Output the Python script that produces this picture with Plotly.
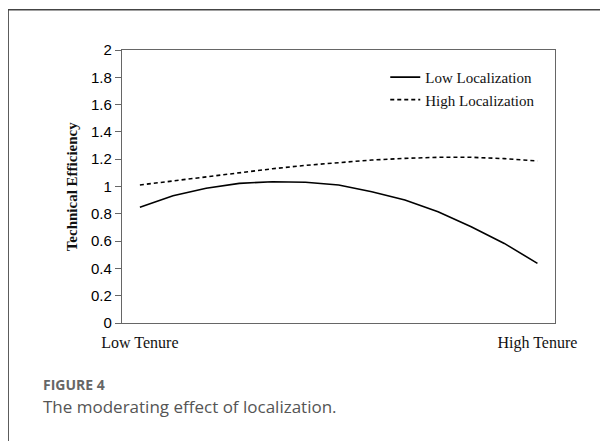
import plotly.graph_objects as go

# tenure positions (13 evenly spaced points from low to high)
tenure_idx = list(range(13))
tenure_labels = ["Low Tenure", "High Tenure"]

low_localization = [0.848, 0.933, 0.987, 1.023, 1.035, 1.031, 1.011, 0.962, 0.901, 0.815, 0.705, 0.583, 0.437]
high_localization = [1.011, 1.042, 1.072, 1.101, 1.130, 1.155, 1.177, 1.194, 1.206, 1.214, 1.214, 1.204, 1.187]

y_ticks = [0, 0.2, 0.4, 0.6, 0.8, 1, 1.2, 1.4, 1.6, 1.8, 2]

serif = "Liberation Serif, Times New Roman, serif"
sans = "Liberation Sans, Arial, sans-serif"

fig = go.Figure()
fig.add_trace(go.Scatter(x=tenure_idx, y=low_localization, mode="lines", name="Low Localization",
                         line=dict(color="black", width=1.6)))
fig.add_trace(go.Scatter(x=tenure_idx, y=high_localization, mode="lines", name="High Localization",
                         line=dict(color="black", width=1.6, dash="4px,3px")))

fig.update_xaxes(
    range=[-0.54, 12.53],
    tickmode="array", tickvals=[tenure_idx[0], tenure_idx[-1]], ticktext=tenure_labels,
    tickfont=dict(family=serif, size=16, color="#111"),
    ticks="", ticklabelstandoff=5,
    showgrid=False, zeroline=False,
    showline=True, linecolor="#666", linewidth=1.3, mirror=True,
)
fig.update_yaxes(
    range=[0, 2],
    tickmode="array", tickvals=y_ticks, ticktext=[f"{v:g}" for v in y_ticks],
    tickfont=dict(family=sans, size=15, color="black"),
    ticks="outside", ticklen=6, tickcolor="#666", tickwidth=1,
    showgrid=False, zeroline=False,
    showline=True, linecolor="#666", linewidth=1.3, mirror=True,
)

# page body adds 8px around the plot div, so the figure is drawn 8px smaller
fig.update_layout(
    width=600, height=433,
    margin=dict(l=114, r=53, t=42, b=118),
    paper_bgcolor="white", plot_bgcolor="white",
    showlegend=True,
    legend=dict(x=0.608, y=0.96, xanchor="left", yanchor="top",
                font=dict(family=serif, size=15, color="#111"),
                bgcolor="rgba(0,0,0,0)", itemwidth=30, tracegroupgap=0),
    annotations=[
        dict(text="<b>Technical Efficiency</b>", x=-0.139, y=0.5, xref="paper", yref="paper",
             textangle=-90, showarrow=False, font=dict(family=serif, size=15, color="#111")),
        dict(text="<b>FIGURE 4</b>", x=-0.188, y=-0.267, xref="paper", yref="paper", xanchor="left",
             showarrow=False, font=dict(family="Open Sans, sans-serif", size=14, color="#666")),
        dict(text="The moderating effect of localization.", x=-0.188, y=-0.355, xref="paper", yref="paper",
             xanchor="left", showarrow=False, font=dict(family="Open Sans, sans-serif", size=17, color="#555")),
    ],
    shapes=[
        dict(type="rect", xref="paper", yref="paper", x0=-0.263, x1=1.2, y0=-0.5, y1=1.147,
             line=dict(color="#444", width=1.5), layer="below"),
    ],
)

fig.write_html("out.html")
